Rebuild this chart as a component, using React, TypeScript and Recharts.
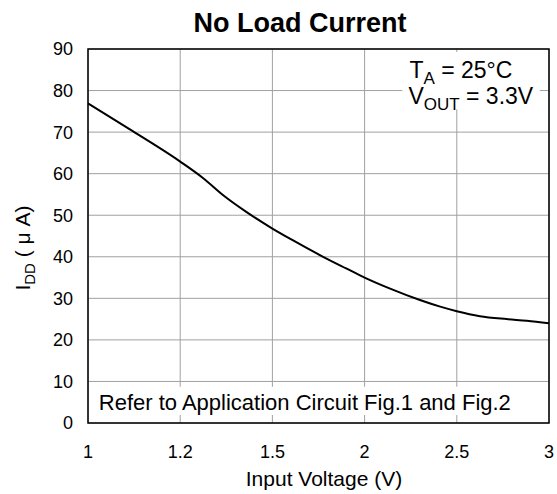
import React from 'react'
import { LineChart, Line, XAxis, YAxis, CartesianGrid, ReferenceArea } from 'recharts'

// x tick labels (evenly spaced on the original, not linear in volts)
const tickVolts = [1, 1.2, 1.5, 2, 2.5, 3]
const yTicks = [0, 10, 20, 30, 40, 50, 60, 70, 80, 90]

// curve
const inputVoltage = [1.0, 1.09, 1.2, 1.275, 1.34, 1.415, 1.5, 1.61, 1.775, 1.9, 2.0, 2.135, 2.3, 2.41, 2.5, 2.625, 2.77, 2.88, 3.0]
const iddMicroA = [76.9, 70.7, 62.9, 58.9, 54.8, 50.8, 46.8, 44.0, 40.0, 37.2, 35.0, 32.4, 29.6, 28.0, 26.9, 25.7, 25.0, 24.6, 24.0]

const FONT = '"Liberation Sans", Arial, Helvetica, sans-serif'

// piecewise position between the labelled ticks
function toAxis(v: number) {
  for (let i = 0; i < tickVolts.length - 1; i++) {
    const a = tickVolts[i]
    const b = tickVolts[i + 1]
    if (v <= b) return i + (v - a) / (b - a)
  }
  return tickVolts.length - 1
}

const chartData = inputVoltage.map((v, i) => ({ x: toAxis(v), idd: iddMicroA[i] }))

function ConditionsNote(props: any) {
  const { x, y } = props.viewBox
  return (
    <g fontFamily={FONT} fill="#000">
      <text x={x + 7} y={y + 26} fontSize={23}>
        T<tspan fontSize={17} dy={6}>A</tspan>
        <tspan dy={-6}> = 25°C</tspan>
      </text>
      <text x={x + 6} y={y + 52} fontSize={23}>
        V<tspan fontSize={17} dy={6}>OUT</tspan>
        <tspan dy={-6}> = 3.3V</tspan>
      </text>
    </g>
  )
}

function CircuitNote(props: any) {
  const { x, y } = props.viewBox
  return (
    <text x={x + 8} y={y + 23} fontFamily={FONT} fontSize={22} fill="#000">
      Refer to Application Circuit Fig.1 and Fig.2
    </text>
  )
}

export default function App() {
  return (
    <div style={{ position: 'absolute', left: 0, top: 0, width: 557, height: 494, background: '#fff' }}>
      <LineChart width={557} height={494} data={chartData} margin={{ top: 49, right: 8, bottom: 41, left: 28 }}>
        <CartesianGrid stroke="#a0a0a0" strokeWidth={1} />
        <XAxis
          dataKey="x"
          type="number"
          domain={[0, 5]}
          ticks={[0, 1, 2, 3, 4, 5]}
          tickFormatter={(v) => String(tickVolts[Number(v)])}
          height={30}
          axisLine={false}
          tickLine={false}
          tickSize={0}
          tickMargin={22}
          tick={{ fill: '#000', fontSize: 18, fontFamily: FONT }}
          interval={0}
        />
        <YAxis
          type="number"
          domain={[0, 90]}
          ticks={yTicks}
          width={60}
          axisLine={false}
          tickLine={false}
          tickSize={0}
          tickMargin={15}
          tick={{ fill: '#000', fontSize: 18, fontFamily: FONT }}
          interval={0}
        />
        {/* white boxes behind the notes */}
        <ReferenceArea x1={3.41} x2={4.9} y1={75.5} y2={89.3} fill="#fff" fillOpacity={1} stroke="none" label={<ConditionsNote />} />
        <ReferenceArea x1={0.03} x2={4.97} y1={1.9} y2={8.7} fill="#fff" fillOpacity={1} stroke="none" label={<CircuitNote />} />
        <Line type="monotone" dataKey="idd" stroke="#000" strokeWidth={2} dot={false} isAnimationActive={false} />
        <ReferenceArea x1={0} x2={5} y1={0} y2={90} fill="none" stroke="#000" strokeWidth={1.5} />

        <text x={300} y={32} textAnchor="middle" fontFamily={FONT} fontSize={27} fontWeight="bold" fill="#000">
          No Load Current
        </text>
        <text x={324} y={486} textAnchor="middle" fontFamily={FONT} fontSize={21} fill="#000">
          Input Voltage (V)
        </text>
        <text x={30} y={248} textAnchor="middle" fontFamily={FONT} fontSize={21} fill="#000" transform="rotate(-90, 30, 248)">
          I<tspan fontSize={15} dy={5}>DD</tspan>
          <tspan dy={-5}> ( μ A)</tspan>
        </text>
      </LineChart>
    </div>
  )
}
